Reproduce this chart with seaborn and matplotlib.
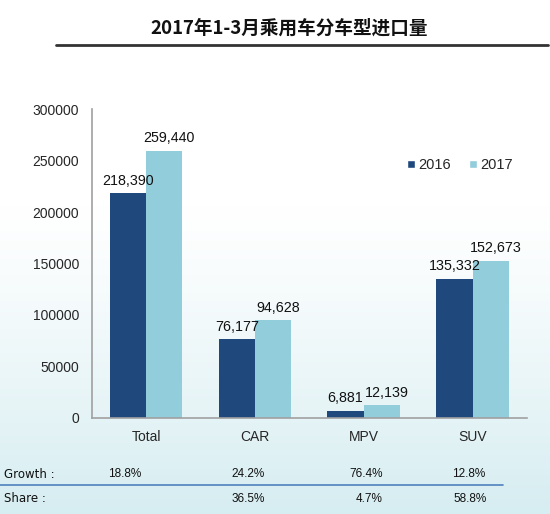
import numpy as np
import pandas as pd
import matplotlib
matplotlib.use("Agg")
import matplotlib.pyplot as plt
import seaborn as sns
from matplotlib.patches import Patch

categories = ["Total", "CAR", "MPV", "SUV"]
values_2016 = [218390, 76177, 6881, 135332]
values_2017 = [259440, 94628, 12139, 152673]
years = ["2016", "2017"]
growth = ["18.8%", "24.2%", "76.4%", "12.8%"]
share = ["", "36.5%", "4.7%", "58.8%"]
title = "2017年1-3月乘用车分车型进口量"

colors = {"2016": "#1F497D", "2017": "#92CDDC"}

df = pd.DataFrame({
    "cat": categories * 2,
    "year": ["2016"] * 4 + ["2017"] * 4,
    "val": values_2016 + values_2017,
})

sns.set_theme(style="white")
plt.rcParams['font.family'] = ['Liberation Sans', 'DejaVu Sans']

W, H = 550, 514
fig = plt.figure(figsize=(W / 100, H / 100), dpi=100)

# background gradient
bg = fig.add_axes([0, 0, 1, 1], zorder=-10)
n = 514
t = np.linspace(0, 1, n)  # 0 top, 1 bottom
w = np.clip((t - 0.4) / 0.6, 0, 1) ** 1.2
top = np.array([1.0, 1.0, 1.0])
bot = np.array([0xd6, 0xed, 0xf1]) / 255
grad = top[None, :] * (1 - w[:, None]) + bot[None, :] * w[:, None]
img = np.repeat(grad[:, None, :], 10, axis=1)
bg.imshow(img, aspect="auto", extent=[0, 1, 0, 1], origin="upper")
bg.set_axis_off()

def fx(px):
    return px / W

def fy(py):
    return 1 - py / H

ax = fig.add_axes([fx(91.7), fy(417.7), fx(527) - fx(91.7), fy(109.3) - fy(417.7)])
ax.patch.set_alpha(0)

sns.barplot(data=df, x="cat", y="val", hue="year", palette=colors,
            order=categories, hue_order=years, width=0.668, gap=0,
            saturation=1, linewidth=0, ax=ax, legend=False)

for i, cont in enumerate(ax.containers):
    anns = ax.bar_label(cont, labels=[f"{v:,.0f}" for v in cont.datavalues],
                        fontsize=10.3, padding=4, color="#111111")
    if i == 1:
        for a in anns:
            a.xyann = (3.5, 4)

ax.set_ylim(0, 300000)
ax.set_xlim(-0.5, 3.5)
ax.set_yticks(np.arange(0, 300001, 50000))
ax.set_yticklabels([f"{int(v)}" for v in np.arange(0, 300001, 50000)], fontsize=10)
ax.set_xlabel("")
ax.set_ylabel("")
ax.tick_params(axis="x", which="major", length=0, labelsize=10, pad=9)
ax.set_xticks([-0.5, 0.5, 1.5, 2.5, 3.5], minor=True)
ax.tick_params(axis="x", which="minor", length=4, color="#999999", direction="out")
ax.tick_params(axis="y", length=4, color="#999999", direction="out", pad=5)
for s in ["top", "right"]:
    ax.spines[s].set_visible(False)
for s in ["left", "bottom"]:
    ax.spines[s].set_color("#a0a0a0")
    ax.spines[s].set_linewidth(1.2)

handles = [Patch(facecolor=colors[y], label=y) for y in years]
ax.legend(handles=handles, loc="center left", bbox_to_anchor=(0.724, 0.819),
          ncol=2, frameon=False, fontsize=10.5, handlelength=0.55, handleheight=0.55,
          handletextpad=0.2, columnspacing=1.3, borderpad=0, borderaxespad=0)

# title
fig.text(fx(289), fy(28), title, ha="center", va="center", fontsize=13.4,
         fontweight="bold", family=["Noto Sans CJK SC", "DejaVu Sans"], color="#111111")
fig.add_artist(plt.Line2D([fx(56), fx(548)], [fy(45), fy(45)], color="#333333", lw=2))

# table rows
gy, sy = 474, 499
fig.text(fx(4), fy(gy), "Growth :", ha="left", va="center", fontsize=8.5,
         family=["DejaVu Sans"], color="#111111")
fig.text(fx(4), fy(sy), "Share :", ha="left", va="center", fontsize=8.5,
         family=["DejaVu Sans"], color="#111111")
gx = [125, 248, 366, 469]
sx = [125, 248, 369, 470]
for x, g in zip(gx, growth):
    fig.text(fx(x), fy(gy), g, ha="center", va="center", fontsize=8.5, color="#111111")
for x, s in zip(sx, share):
    if s:
        fig.text(fx(x), fy(sy), s, ha="center", va="center", fontsize=8.5, color="#111111")
fig.add_artist(plt.Line2D([0, fx(503)], [fy(485), fy(485)], color="#4F81BD", lw=1.2))

fig.savefig("out.png", dpi=100)
